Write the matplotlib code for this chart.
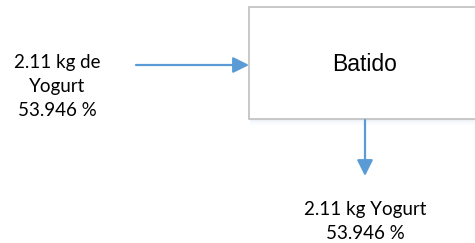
import matplotlib.pyplot as plt
from matplotlib.patches import Rectangle, FancyArrowPatch

# Diagram content
process_name = "Batido"
input_mass = 2.11
input_label = "de\nYogurt"
input_pct = 53.946
output_mass = 2.11
output_label = "Yogurt"
output_pct = 53.946

blue = "#5b9bd5"

fig = plt.figure(figsize=(4.75, 2.43), dpi=100)
ax = fig.add_axes([0, 0, 1, 1])
ax.set_xlim(0, 475)
ax.set_ylim(243, 0)
ax.axis("off")

# soft shadow under the box
for i, a in enumerate([0.18, 0.12, 0.07, 0.03]):
    ax.add_patch(Rectangle((250, 119 + i * 1.5), 240, 1.5, facecolor="#9dbbd8",
                           edgecolor="none", alpha=a))

# process box (runs past right edge)
ax.add_patch(Rectangle((249, 7), 240, 112, facecolor="white",
                       edgecolor="#bfbfbf", linewidth=1.2))
ax.text(365, 64, process_name, ha="center", va="center",
        fontsize=16.5, family="Liberation Sans", color="black")

# input arrow
ax.add_patch(FancyArrowPatch((136, 65), (249, 65), arrowstyle="-|>",
                             mutation_scale=24, color=blue, linewidth=1.6,
                             shrinkA=0, shrinkB=0))
ax.text(57, 86, f"{input_mass} kg {input_label}\n{input_pct} %", ha="center",
        va="center", fontsize=13.5, family="Lato", linespacing=1.5)

# output arrow
ax.add_patch(FancyArrowPatch((365, 120), (365, 176), arrowstyle="-|>",
                             mutation_scale=24, color=blue, linewidth=1.6,
                             shrinkA=0, shrinkB=0))
ax.text(365, 221, f"{output_mass} kg {output_label}\n{output_pct} %",
        ha="center", va="center", fontsize=13.5, family="Lato",
        linespacing=1.5)

fig.savefig("out.png", dpi=100)
